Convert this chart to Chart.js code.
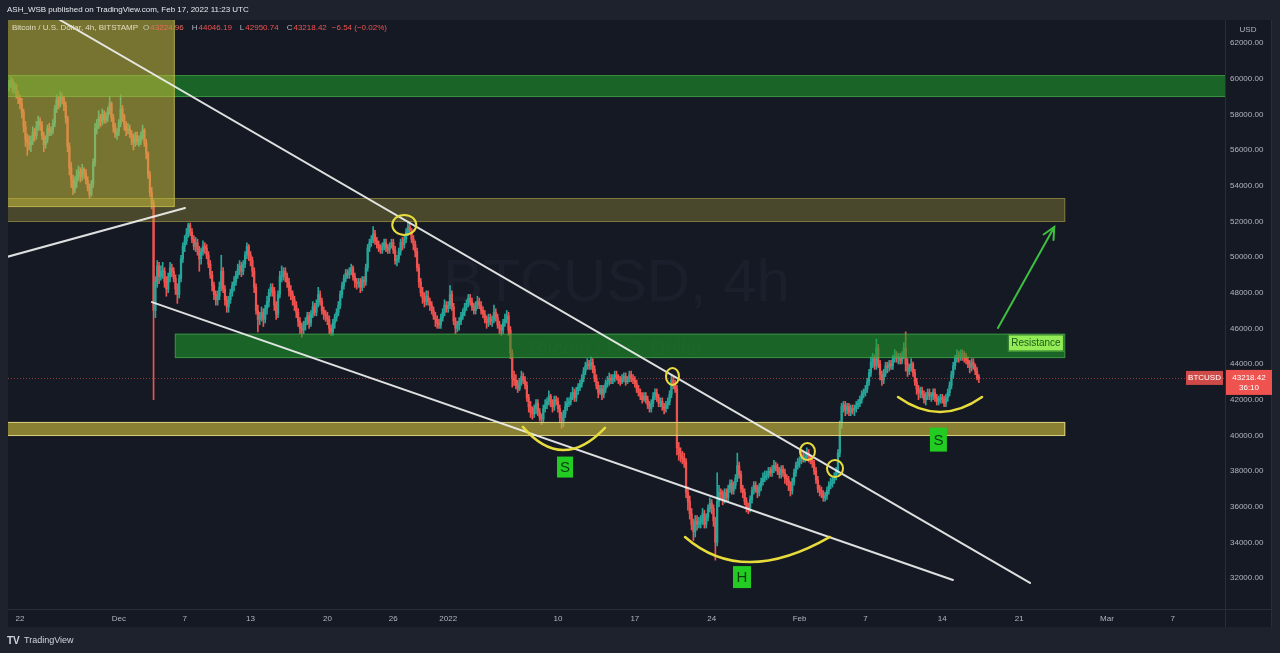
<!DOCTYPE html>
<html><head><meta charset="utf-8">
<script src="https://cdn.jsdelivr.net/npm/chart.js@4.4.1/dist/chart.umd.min.js"></script>
<style>html,body{margin:0;padding:0;background:#1e222d;overflow:hidden}canvas{display:block}</style>
</head><body><canvas id="c" width="1280" height="653"></canvas>
<script>
// ---------- DATA (prices in thousands of USD, 4h candles from Nov 21 2021 00:00 UTC) ----------
const firstOpen = 59.6;
const closes = [
59.7,59.9,59.4,59.6,59.1,58.9, 58.6,58.1,57.3,56.6,56.4,56.3, 56.5,57.0,56.8,57.3,57.6,57.4, 56.8,56.3,56.6,57.2,57.0,57.1,
57.5,58.3,58.8,58.5,59.0,58.9, 58.5,57.8,56.2,55.0,54.3,53.8, 54.2,54.6,54.8,54.5,54.9,54.7, 54.3,53.9,53.5,54.1,55.3,57.2,
57.4,57.8,57.6,58.0,57.7,57.9, 58.2,58.6,57.8,57.3,56.9,57.0, 57.5,58.3,57.9,57.4,57.1,57.2, 56.9,56.6,56.4,56.8,56.5,56.5,
56.8,57.1,56.4,55.8,54.6,53.6, 53.0,47.0,48.6,49.5,48.9,49.2, 49.2,48.6,48.2,48.9,49.4,49.2, 48.8,48.2,47.9,48.8,49.9,50.6,
50.9,51.3,51.8,51.4,51.0,50.6, 50.8,50.4,49.9,50.3,50.6,50.5, 50.1,49.6,49.0,48.4,47.9,47.6, 47.8,48.3,49.2,48.2,47.6,47.2,
47.6,48.0,48.4,48.6,49.0,49.3, 49.5,49.2,49.6,50.1,50.6,50.1, 49.8,49.2,48.3,47.0,46.5,46.7, 46.9,46.5,47.1,47.5,48.0,48.3,
48.1,47.3,46.8,47.9,48.9,49.0, 49.2,48.9,48.6,48.1,47.9,47.6, 47.3,46.9,46.4,46.0,45.9,46.2, 46.4,46.7,46.3,46.8,47.2,46.9,
47.4,47.9,47.5,47.0,46.8,46.7, 46.5,46.0,45.8,46.3,46.6,46.9, 47.3,47.9,48.4,48.8,49.1,49.0, 49.2,49.4,48.9,48.6,48.5,48.6,
48.3,48.7,48.6,49.4,50.5,50.8, 51.0,51.3,50.9,50.7,50.5,50.4, 50.6,50.8,50.5,50.4,50.6,50.8, 50.4,49.8,49.9,50.3,50.8,50.7,
51.0,51.4,51.7,51.5,51.0,50.7, 50.3,49.4,48.6,48.0,47.7,47.5, 47.8,47.5,47.3,47.0,46.7,46.5, 46.3,46.2,46.6,46.9,47.3,47.1,
47.3,47.9,47.2,46.4,46.0,46.2, 46.4,46.7,46.9,47.2,47.4,47.7, 47.5,47.2,47.0,47.3,47.5,47.3, 47.0,46.8,46.5,46.3,46.6,46.4,
46.5,46.9,46.6,46.2,46.0,45.9, 46.3,46.5,46.7,45.9,44.6,43.2, 43.1,42.8,42.6,43.0,43.3,43.1, 42.8,42.1,41.6,41.3,41.2,41.5,
41.8,41.3,41.0,40.9,41.5,41.7, 41.9,42.2,41.8,41.6,42.0,41.9, 41.5,41.0,40.8,41.2,41.6,41.8, 41.9,42.2,42.4,42.1,42.5,42.7,
42.9,43.2,43.6,43.9,44.0,43.9, 44.1,43.7,43.2,42.8,42.4,42.6, 42.3,42.6,42.9,43.0,43.2,43.1, 43.2,43.4,43.3,43.1,43.0,43.2,
43.3,43.0,43.2,43.4,43.2,43.1, 42.9,42.6,42.4,42.2,42.0,42.2, 42.0,41.7,41.5,41.8,42.2,42.4, 42.1,41.8,41.9,41.6,41.5,41.7,
41.9,42.3,43.1,42.9,42.6,39.3, 39.0,38.8,38.7,38.5,36.8,36.3, 35.6,35.0,34.6,35.2,35.0,35.1, 35.3,35.6,35.0,35.4,35.9,36.2,
35.9,35.2,34.0,36.3,36.8,36.7, 36.4,36.8,36.5,37.0,37.3,36.9, 37.2,37.6,38.3,37.8,37.0,36.8, 36.3,36.0,35.9,36.4,36.9,37.2,
37.0,36.8,37.1,37.4,37.6,37.7, 37.8,38.0,37.9,38.1,38.3,38.2, 38.0,37.8,38.1,37.9,37.6,37.5, 37.2,36.9,37.4,37.9,38.3,38.5,
38.6,38.9,38.7,38.8,39.0,38.7, 38.6,38.4,38.0,37.5,37.0,36.9, 36.7,36.5,36.6,36.9,37.2,37.3, 37.5,37.7,38.0,39.0,40.6,41.6,
41.7,41.4,41.6,41.3,41.5,41.4, 41.5,41.7,41.8,42.0,42.3,42.4, 42.6,43.0,43.5,44.1,44.3,43.9, 44.9,44.0,43.4,43.1,43.5,43.9,
43.8,44.0,43.9,44.3,44.5,44.3, 44.4,44.2,44.5,44.9,44.0,43.6, 43.8,44.0,43.5,43.0,42.6,42.4, 42.5,42.3,42.0,42.2,42.4,42.2,
42.2,42.4,42.1,41.9,42.0,42.1, 42.0,41.8,42.1,42.4,42.8,43.4, 43.9,44.3,44.5,44.4,44.6,44.5, 44.4,44.2,44.0,43.8,44.1,43.9,
43.6,43.225,43.21842
];
const highs = [
59.9,60.1,60.0,59.8,59.7,59.3, 59.1,58.9,58.3,57.6,56.9,56.8, 56.8,57.3,57.2,57.6,57.9,57.8, 57.6,57.0,56.8,57.4,57.5,57.3,
57.7,58.5,59.1,59.0,59.3,59.2, 59.0,58.7,57.9,56.4,55.3,54.6, 54.5,54.9,55.1,55.0,55.2,55.0, 54.9,54.5,54.1,54.3,55.5,57.5,
57.7,58.2,58.0,58.3,58.2,58.1, 58.4,59.0,58.7,58.0,57.5,57.2, 57.7,59.1,58.5,58.0,57.6,57.5, 57.4,57.1,56.9,57.0,57.0,56.8,
57.0,57.4,57.2,56.6,55.9,54.8, 53.9,53.2,48.9,49.8,49.7,49.5, 49.7,49.4,48.9,49.1,49.7,49.6, 49.4,49.0,48.5,49.0,50.1,50.8,
51.2,51.6,51.9,51.9,51.6,51.2, 51.1,51.0,50.6,50.5,50.9,50.8, 50.7,50.3,49.8,49.2,48.6,48.1, 48.1,48.6,50.1,49.4,48.4,47.8,
47.8,48.2,48.6,48.9,49.2,49.6, 49.8,49.7,49.8,50.3,50.8,50.7, 50.3,50.0,49.4,48.5,47.3,46.9, 47.2,47.1,47.3,47.8,48.2,48.5,
48.5,48.3,47.5,48.1,49.2,49.5, 49.4,49.4,49.1,48.8,48.4,48.1, 47.8,47.5,47.1,46.6,46.3,46.4, 46.6,46.9,46.9,47.0,47.5,47.4,
47.6,48.3,48.1,47.7,47.2,47.0, 46.9,46.7,46.2,46.5,46.8,47.1, 47.5,48.1,48.6,49.0,49.3,49.3, 49.4,49.6,49.5,49.1,48.8,48.8,
48.8,48.9,48.9,49.6,50.7,51.0, 51.2,51.7,51.5,51.1,50.9,50.7, 50.8,51.0,51.0,50.7,50.8,51.0, 51.0,50.6,50.1,50.5,51.0,51.1,
51.2,51.6,52.0,51.9,51.6,51.2, 50.9,50.5,49.6,48.8,48.3,48.0, 48.1,48.1,47.7,47.5,47.2,46.9, 46.7,46.5,46.8,47.1,47.6,47.5,
47.5,48.4,48.1,47.4,46.6,46.4, 46.6,46.9,47.1,47.4,47.6,47.9, 47.9,47.7,47.4,47.5,47.8,47.7, 47.5,47.2,47.0,46.7,46.8,46.8,
46.7,47.3,47.1,46.8,46.4,46.2, 46.5,46.8,47.0,46.9,46.1,44.8, 43.6,43.4,43.1,43.2,43.6,43.5, 43.3,43.0,42.3,41.9,41.6,41.7,
42.0,42.0,41.5,41.2,41.7,42.0, 42.1,42.5,42.3,42.0,42.2,42.2, 42.1,41.7,41.3,41.4,41.9,42.1, 42.1,42.4,42.7,42.6,42.7,42.9,
43.1,43.4,43.8,44.1,44.3,44.2, 44.4,44.3,43.9,43.4,43.0,42.8, 42.8,42.8,43.1,43.3,43.5,43.4, 43.4,43.6,43.6,43.4,43.3,43.4,
43.5,43.5,43.3,43.6,43.6,43.4, 43.3,43.1,42.8,42.6,42.4,42.4, 42.4,42.2,41.9,42.0,42.4,42.6, 42.6,42.3,42.1,42.1,41.8,41.9,
42.1,42.5,43.4,43.3,43.1,42.8, 39.6,39.3,39.1,39.0,38.7,37.1, 36.6,35.9,35.3,35.5,35.5,35.4, 35.5,35.9,35.8,35.6,36.1,36.5,
36.4,36.1,35.4,37.9,37.2,37.0, 36.9,37.0,37.0,37.2,37.5,37.5, 37.4,37.8,39.0,38.5,38.0,37.2, 37.0,36.5,36.2,36.6,37.1,37.4,
37.4,37.2,37.3,37.6,37.9,38.0, 38.0,38.2,38.2,38.3,38.6,38.5, 38.4,38.2,38.3,38.3,38.1,37.8, 37.7,37.4,37.6,38.1,38.5,38.7,
38.8,39.1,39.1,39.0,39.3,39.2, 38.9,38.8,38.6,38.2,37.7,37.2, 37.1,36.9,36.8,37.1,37.4,37.6, 37.7,37.9,38.2,39.2,40.8,41.8,
41.9,41.9,41.8,41.8,41.7,41.7, 41.7,41.9,42.0,42.2,42.5,42.6, 42.8,43.2,43.7,44.4,44.6,44.5, 45.4,45.1,44.2,43.6,43.7,44.1,
44.1,44.2,44.2,44.5,44.8,44.7, 44.6,44.6,44.7,45.2,45.8,44.3, 44.0,44.3,44.1,43.7,43.2,42.8, 42.7,42.7,42.5,42.4,42.6,42.6,
42.4,42.6,42.6,42.3,42.2,42.3, 42.3,42.2,42.3,42.6,43.0,43.6, 44.1,44.5,44.8,44.7,44.8,44.8, 44.7,44.6,44.4,44.2,44.3,44.3,
44.0,43.8,43.4
];
const lows = [
59.3,59.5,59.2,59.2,58.9,58.6, 58.3,57.8,57.0,56.2,55.7,56.0, 55.9,56.3,56.5,56.6,57.1,57.1, 56.6,55.9,56.1,56.4,56.8,56.8,
56.9,57.3,58.1,58.3,58.4,58.6, 58.2,57.5,55.9,54.6,53.9,53.5, 53.6,53.9,54.3,54.2,54.3,54.4, 54.1,53.7,53.3,53.4,53.9,55.1,
56.9,57.2,57.3,57.4,57.5,57.5, 57.6,58.0,57.6,57.0,56.7,56.6, 56.8,57.3,57.6,57.1,56.8,56.9, 56.7,56.3,56.0,56.2,56.3,56.2,
56.3,56.6,56.2,55.5,54.4,53.4, 52.7,42.0,46.6,48.3,48.5,48.7, 48.8,48.3,47.8,48.0,48.6,48.9, 48.6,47.9,47.4,47.7,48.6,49.7,
50.3,50.7,51.1,51.2,50.8,50.4, 50.3,50.1,49.2,49.6,50.1,50.2, 49.9,49.4,48.8,48.1,47.6,47.3, 47.3,47.6,48.1,48.0,47.3,46.9,
46.9,47.4,47.8,48.1,48.4,48.8, 49.0,48.9,49.0,49.4,49.9,49.8, 49.5,48.9,48.0,46.8,45.8,46.2, 46.4,46.1,46.3,46.8,47.2,47.8,
47.8,47.0,46.5,46.6,47.7,48.6, 48.7,48.6,48.3,47.8,47.6,47.3, 47.0,46.6,46.1,45.7,45.5,45.7, 45.9,46.2,46.0,46.1,46.6,46.7,
46.7,47.2,47.3,46.8,46.5,46.4, 46.2,45.7,45.6,45.6,46.0,46.4, 46.7,47.1,47.7,48.2,48.6,48.8, 48.8,49.0,48.7,48.3,48.2,48.3,
48.0,48.1,48.3,48.4,49.2,50.3, 50.6,50.8,50.7,50.5,50.3,50.2, 50.2,50.4,50.3,50.2,50.2,50.5, 50.2,49.6,49.5,49.7,50.1,50.4,
50.5,50.8,51.2,51.3,50.8,50.4, 50.0,49.2,48.3,47.8,47.4,47.2, 47.3,47.3,47.0,46.8,46.5,46.1, 46.0,46.0,46.0,46.4,46.7,46.9,
46.9,47.1,47.0,46.2,45.7,45.8, 45.9,46.2,46.5,46.7,47.0,47.2, 47.3,47.0,46.8,46.8,47.1,47.1, 46.8,46.6,46.3,46.0,46.1,46.2,
46.1,46.3,46.4,46.0,45.7,45.6, 45.7,46.1,46.3,45.6,44.3,42.7, 42.8,42.6,42.4,42.5,42.8,42.9, 42.6,41.9,41.3,41.0,40.9,41.0,
41.2,41.1,40.8,40.6,40.7,41.3, 41.5,41.7,41.6,41.3,41.4,41.7, 41.3,40.7,40.4,40.5,41.0,41.4, 41.6,41.7,42.0,41.9,41.9,42.3,
42.5,42.7,43.0,43.4,43.7,43.7, 43.7,43.5,43.0,42.6,42.1,42.3, 42.0,42.1,42.4,42.7,42.8,42.9, 42.9,43.0,43.1,42.9,42.8,42.9,
43.0,42.8,42.9,43.0,43.0,42.9, 42.7,42.4,42.2,42.0,41.8,41.9, 41.8,41.5,41.3,41.3,41.6,42.0, 41.9,41.6,41.6,41.4,41.2,41.3,
41.5,41.7,42.1,42.6,42.4,38.9, 38.6,38.5,38.4,38.2,36.5,35.8, 35.3,34.7,34.1,34.3,34.7,34.8, 34.8,35.0,34.8,34.8,35.2,35.7,
35.6,34.9,33.0,33.8,36.0,36.4, 36.1,36.2,36.3,36.3,36.8,36.7, 36.7,37.0,37.4,37.6,36.8,36.5, 36.1,35.7,35.6,35.7,36.2,36.7,
36.8,36.5,36.6,36.9,37.2,37.4, 37.5,37.6,37.7,37.7,37.9,38.0, 37.8,37.6,37.6,37.7,37.3,37.2, 36.9,36.6,36.7,37.2,37.7,38.1,
38.2,38.4,38.5,38.5,38.6,38.5, 38.4,38.2,37.8,37.3,36.8,36.6, 36.5,36.3,36.3,36.4,36.7,37.0, 37.1,37.3,37.5,37.8,38.8,40.4,
41.3,41.1,41.2,41.1,41.1,41.2, 41.1,41.3,41.5,41.6,41.8,42.1, 42.2,42.4,42.8,43.3,43.8,43.7, 43.7,43.8,43.1,42.8,42.9,43.3,
43.5,43.6,43.7,43.7,44.1,44.1, 44.0,44.0,44.0,44.3,43.6,43.3, 43.4,43.6,43.3,42.8,42.3,42.0, 42.1,42.1,41.8,41.7,42.0,42.0,
41.9,42.0,41.9,41.7,41.7,41.8, 41.8,41.6,41.6,41.9,42.2,42.6, 43.2,43.7,44.1,44.1,44.2,44.2, 44.1,44.0,43.8,43.5,43.6,43.7,
43.4,43.1,42.95
];
const tickDays   = [1, 10, 16, 22, 29, 35, 40, 50, 57, 64, 72, 78, 85, 92, 100, 106];
const tickLabels = ['22','Dec','7','13','20','26','2022','10','17','24','Feb','7','14','21','Mar','7'];
const priceTicks = [32,34,36,38,40,42,44,46,48,50,52,54,56,58,60,62];
const lastPrice = 43.21842;

// ---------- ANNOTATIONS (data coordinates: day since Nov 21, price in k USD) ----------
const CANDLE_DAYS = 4/24;
const zones = [
  {d0:-1, d1:96.2, p0:51.96, p1:53.31, fill:'rgba(180,170,60,0.33)', edge:'rgba(190,180,80,0.45)'},
  {d0:-1, d1:120,  p0:58.97, p1:60.20, fill:'rgba(30,155,40,0.58)',  edge:'rgba(90,180,90,0.55)'},
  {d0:15.1, d1:96.2, p0:44.33, p1:45.70, fill:'rgba(30,155,40,0.58)', edge:'rgba(90,180,90,0.55)'},
  {d0:-1, d1:96.2, p0:39.96, p1:40.75, fill:'rgba(200,185,60,0.65)', edge:'rgba(225,215,130,0.9)'},
  {d0:-1, d1:15.1, p0:52.80, p1:70,    fill:'rgba(200,190,60,0.55)', edge:'rgba(210,200,90,0.6)'}
];
const trendLines = [
  {d0:4.64, p0:63.29, d1:92.99, p1:31.72},
  {d0:13.02, p0:47.47, d1:85.97, p1:31.89},
  {d0:-0.2, p0:50.0, d1:16.03, p1:52.75}
];
const circles = [
  {d:36.0, p:51.80, rx:12, ry:10},
  {d:60.43, p:43.30, rx:6.5, ry:8.5},
  {d:72.72, p:39.09, rx:7.5, ry:8.5},
  {d:75.23, p:38.14, rx:8, ry:8.5}
];
const arcs = [
  {a:[46.8,40.47], v:[50.46,39.17], b:[54.28,40.42]},
  {a:[61.57,34.30], v:[67.49,32.89], b:[74.77,34.30]},
  {a:[80.97,42.15], v:[84.79,41.31], b:[88.62,42.15]}
];
const tags = [
  {d:50.64, p:38.22, text:'S', w:16, h:21},
  {d:66.76, p:32.05, text:'H', w:18, h:22},
  {d:84.65, p:39.76, text:'S', w:17, h:24}
];
const arrow = {d0:90.07, p0:46.02, d1:95.2, p1:51.68};
const resistanceTag = {d:93.53, p:45.18, text:'Resistance'};

// ---------- build candle datasets ----------
const opens = closes.map((c, i) => i === 0 ? firstOpen : closes[i - 1]);
const UP = '#26a69a', DOWN = '#ef5350';
const colorOf = i => closes[i] >= opens[i] ? UP : DOWN;
const wickData = closes.map((c, i) => ({x: i * CANDLE_DAYS, y: [lows[i], highs[i]]}));
const bodyData = closes.map((c, i) => ({x: i * CANDLE_DAYS, y: [opens[i], c]}));
const wickColors = closes.map((c, i) => colorOf(i));
const bodyColors = closes.map((c, i) => colorOf(i));

const FONT = "'Liberation Sans', Arial, sans-serif";

const overlay = {
  id: 'tvOverlay',
  beforeDraw(chart) {
    const {ctx, chartArea: a, width, height} = chart;
    ctx.save();
    ctx.fillStyle = '#1e222d';
    ctx.fillRect(0, 0, width, height);
    ctx.fillStyle = '#151924';
    ctx.fillRect(a.left, a.top, 1272 - a.left, 627 - a.top);
    ctx.strokeStyle = '#2a2e39';
    ctx.lineWidth = 1;
    ctx.beginPath();
    ctx.moveTo(a.right + 0.5, a.top); ctx.lineTo(a.right + 0.5, 627);
    ctx.moveTo(a.left, a.bottom + 0.5); ctx.lineTo(1272, a.bottom + 0.5);
    ctx.moveTo(1271.5, a.top); ctx.lineTo(1271.5, 627);
    ctx.stroke();
    // watermark
    const cx = (a.left + a.right) / 2;
    ctx.textAlign = 'center'; ctx.textBaseline = 'middle';
    ctx.fillStyle = 'rgba(140,145,160,0.055)';
    ctx.font = '60px ' + FONT;
    ctx.fillText('BTCUSD, 4h', cx, 284);
    ctx.font = '20px ' + FONT;
    ctx.fillText('Bitcoin / U.S. Dollar', cx, 349);
    ctx.restore();
  },
  afterDatasetsDraw(chart) {
    const {ctx, chartArea: a, scales: {x, y}} = chart;
    const X = v => x.getPixelForValue(v), Y = v => y.getPixelForValue(v);
    ctx.save();
    ctx.beginPath(); ctx.rect(a.left, a.top, a.right - a.left, a.bottom - a.top); ctx.clip();
    // zones
    zones.forEach(z => {
      const x0 = X(z.d0), x1 = X(z.d1), y0 = Y(z.p1), y1 = Y(z.p0);
      ctx.fillStyle = z.fill;
      ctx.fillRect(x0, y0, x1 - x0, y1 - y0);
      ctx.strokeStyle = z.edge; ctx.lineWidth = 1;
      ctx.strokeRect(x0 + 0.5, y0 + 0.5, x1 - x0 - 1, y1 - y0 - 1);
    });
    // current price dotted line
    ctx.strokeStyle = 'rgba(239,83,80,0.55)'; ctx.lineWidth = 1; ctx.setLineDash([1, 2]);
    ctx.beginPath(); ctx.moveTo(a.left, Math.round(Y(lastPrice)) + 0.5); ctx.lineTo(a.right, Math.round(Y(lastPrice)) + 0.5); ctx.stroke();
    ctx.setLineDash([]);
    // trend lines
    ctx.strokeStyle = 'rgba(240,240,240,0.92)'; ctx.lineWidth = 2; ctx.lineCap = 'round';
    trendLines.forEach(l => { ctx.beginPath(); ctx.moveTo(X(l.d0), Y(l.p0)); ctx.lineTo(X(l.d1), Y(l.p1)); ctx.stroke(); });
    // circles
    ctx.strokeStyle = '#e8dc3c'; ctx.lineWidth = 2;
    circles.forEach(c => { ctx.beginPath(); ctx.ellipse(X(c.d), Y(c.p), c.rx, c.ry, 0, 0, Math.PI * 2); ctx.stroke(); });
    // arcs
    ctx.lineWidth = 2.5;
    arcs.forEach(r => {
      const ax = X(r.a[0]), ay = Y(r.a[1]), bx = X(r.b[0]), by = Y(r.b[1]), vx = X(r.v[0]), vy = Y(r.v[1]);
      const cx = 2 * vx - (ax + bx) / 2, cy = 2 * vy - (ay + by) / 2;
      ctx.beginPath(); ctx.moveTo(ax, ay); ctx.quadraticCurveTo(cx, cy, bx, by); ctx.stroke();
    });
    // arrow
    const ax0 = X(arrow.d0), ay0 = Y(arrow.p0), ax1 = X(arrow.d1), ay1 = Y(arrow.p1);
    ctx.strokeStyle = '#3fbf3f'; ctx.lineWidth = 2;
    ctx.beginPath(); ctx.moveTo(ax0, ay0); ctx.lineTo(ax1, ay1); ctx.stroke();
    const ang = Math.atan2(ay1 - ay0, ax1 - ax0);
    ctx.beginPath();
    ctx.moveTo(ax1 - 13 * Math.cos(ang - 0.45), ay1 - 13 * Math.sin(ang - 0.45));
    ctx.lineTo(ax1, ay1);
    ctx.lineTo(ax1 - 13 * Math.cos(ang + 0.45), ay1 - 13 * Math.sin(ang + 0.45));
    ctx.stroke();
    // S / H tags
    tags.forEach(t => {
      const tx = X(t.d), ty = Y(t.p);
      ctx.fillStyle = '#22cc22';
      ctx.fillRect(tx - t.w / 2, ty - t.h / 2, t.w, t.h);
      ctx.fillStyle = '#0c3d10';
      ctx.font = '15px ' + FONT; ctx.textAlign = 'center'; ctx.textBaseline = 'middle';
      ctx.fillText(t.text, tx, ty + 1);
    });
    // Resistance tag
    {
      const tx = X(resistanceTag.d), ty = Y(resistanceTag.p);
      ctx.font = '10px ' + FONT;
      const w = 56, h = 17;
      ctx.fillStyle = '#93ec56';
      ctx.fillRect(tx - w / 2, ty - h / 2, w, h);
      ctx.strokeStyle = '#2f7a2f'; ctx.lineWidth = 1;
      ctx.strokeRect(tx - w / 2 + 0.5, ty - h / 2 + 0.5, w - 1, h - 1);
      ctx.fillStyle = '#1b5a1b'; ctx.textAlign = 'center'; ctx.textBaseline = 'middle';
      ctx.fillText(resistanceTag.text, tx, ty + 0.5);
    }
    ctx.restore();

    // legend line in the pane
    ctx.save();
    ctx.font = '8px ' + FONT; ctx.textBaseline = 'middle'; ctx.textAlign = 'left';
    let px = 12; const py = 28;
    const seg = (t, c, gap) => { ctx.fillStyle = c; ctx.fillText(t, px, py); px += ctx.measureText(t).width + (gap || 0); };
    seg('Bitcoin / U.S. Dollar, 4h, BITSTAMP', '#e0dcc0', 5);
    seg('O', '#c9c6b0', 1); seg('43224.96', '#ef6b5a', 8);
    seg('H', '#b2b5be', 1); seg('44046.19', '#ef5350', 8);
    seg('L', '#b2b5be', 1); seg('42950.74', '#ef5350', 8);
    seg('C', '#b2b5be', 1); seg('43218.42', '#ef5350', 5);
    seg('\u22126.54 (\u22120.02%)', '#ef5350', 0);
    // header
    ctx.font = '8px ' + FONT; ctx.fillStyle = '#e6e8ee';
    ctx.fillText('ASH_WSB published on TradingView.com, Feb 17, 2022 11:23 UTC', 7, 10);
    // USD label
    ctx.fillStyle = '#b2b5be'; ctx.textAlign = 'center';
    ctx.fillText('USD', 1248, 30);
    // price label on axis
    const yp = y.getPixelForValue(lastPrice);
    ctx.fillStyle = '#ef5350';
    ctx.fillRect(1226, yp - 8, 46, 25);
    ctx.fillStyle = 'rgba(239,83,80,0.85)';
    ctx.fillRect(1186, yp - 7, 37, 14);
    ctx.fillStyle = '#ffffff'; ctx.textAlign = 'center';
    ctx.fillText('43218.42', 1249, yp);
    ctx.fillText('36:10', 1249, yp + 10);
    ctx.fillText('BTCUSD', 1204.5, yp);
    // TradingView logo
    ctx.font = 'bold 10px ' + FONT; ctx.textAlign = 'left'; ctx.fillStyle = '#d1d4dc';
    ctx.fillText('TV', 7, 641);
    ctx.font = '9px ' + FONT;
    ctx.fillText('TradingView', 24, 641);
    ctx.restore();
  }
};

const chart = new Chart(document.getElementById('c'), {
  type: 'bar',
  data: {
    datasets: [
      {data: wickData, backgroundColor: wickColors, barThickness: 1, grouped: false, order: 2},
      {data: bodyData, backgroundColor: bodyColors, barThickness: 1.6, minBarLength: 1, grouped: false, order: 1}
    ]
  },
  options: {
    responsive: false, animation: false, events: [],
    layout: {padding: {top: 20, left: 8, right: 8, bottom: 26}},
    plugins: {legend: {display: false}, tooltip: {enabled: false}},
    scales: {
      x: {
        type: 'linear', offset: false, min: -0.091, max: 110.75,
        grid: {display: false, drawTicks: false}, border: {display: false},
        afterBuildTicks(s) { s.ticks = tickDays.map(v => ({value: v})); },
        afterFit(s) { s.height = 18; },
        ticks: {
          autoSkip: false, maxRotation: 0, padding: 5, color: '#b2b5be',
          font: {family: FONT, size: 8},
          callback: (v, i) => tickLabels[i]
        }
      },
      y: {
        type: 'linear', position: 'right', min: 30.26, max: 63.29,
        grid: {display: false, drawTicks: false}, border: {display: false},
        afterBuildTicks(s) { s.ticks = priceTicks.map(v => ({value: v})); },
        afterFit(s) { s.width = 47; },
        ticks: {
          padding: 5, color: '#b2b5be', crossAlign: 'near',
          font: {family: FONT, size: 8},
          callback: v => (v * 1000).toFixed(2)
        }
      }
    }
  },
  plugins: [overlay]
});
</script>
</body></html>
